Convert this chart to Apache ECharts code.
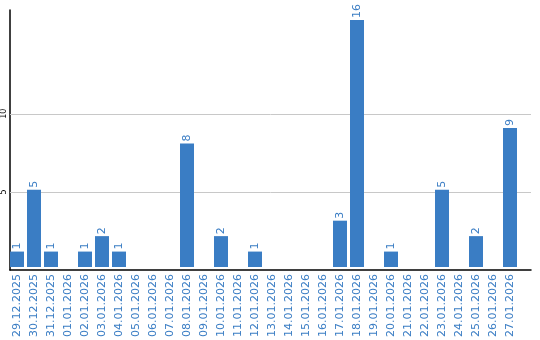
<!DOCTYPE html>
<html><head><meta charset="utf-8">
<script src="https://cdn.jsdelivr.net/npm/echarts@6/dist/echarts.min.js"></script>
<style>html,body{margin:0;padding:0;background:#fff}#c{width:540px;height:340px}</style>
</head><body><div id="c"></div>
<script>
const categories = ["29.12.2025","30.12.2025","31.12.2025","01.01.2026","02.01.2026","03.01.2026","04.01.2026","05.01.2026","06.01.2026","07.01.2026","08.01.2026","09.01.2026","10.01.2026","11.01.2026","12.01.2026","13.01.2026","14.01.2026","15.01.2026","16.01.2026","17.01.2026","18.01.2026","19.01.2026","20.01.2026","21.01.2026","22.01.2026","23.01.2026","24.01.2026","25.01.2026","26.01.2026","27.01.2026"];
const values = [1,5,1,0,1,2,1,0,0,0,8,0,2,0,1,0,0,0,0,3,16,0,1,0,0,5,0,2,0,9];
const yTicks = [5,10];
const yMax = 16.64;
const blue = '#3a7dc4';
const font = 'DejaVu Sans';
const chart = echarts.init(document.getElementById('c'));
chart.setOption({
  animation:false,
  grid:[
    {left:10,right:9,top:10,bottom:70},
    {left:8.5,width:510,top:10,bottom:70}
  ],
  xAxis:[
    {gridIndex:0,type:'value',min:0,max:1,axisLine:{show:true,onZero:false,lineStyle:{color:'#000',width:1.5}},axisTick:{show:false},axisLabel:{show:false},splitLine:{show:false}},
    {gridIndex:1,type:'category',data:categories,axisLine:{show:false},axisTick:{show:false},
     axisLabel:{interval:0,rotate:90,color:blue,fontFamily:font,fontSize:11,margin:7}}
  ],
  yAxis:[
    {gridIndex:0,type:'value',min:0,max:yMax,interval:5,axisLine:{show:true,lineStyle:{color:'#000',width:1.5}},axisTick:{show:false},splitLine:{show:false},
     axisLabel:{rotate:90,color:'#000',fontFamily:font,fontSize:8,margin:2,formatter:v=>yTicks.includes(v)?String(v):''}},
    {gridIndex:1,type:'value',min:0,max:yMax,show:false}
  ],
  series:[
    {type:'line',xAxisIndex:0,yAxisIndex:0,data:[],silent:true,z:0,zlevel:0,
     markLine:{symbol:'none',silent:true,label:{show:false},lineStyle:{color:'#c8c8c8',type:'solid',width:1},
       data:yTicks.map(v=>({yAxis:v}))}},
    {type:'bar',xAxisIndex:1,yAxisIndex:1,data:values.map(v=>v===0?null:v),barWidth:14,zlevel:1,
     itemStyle:{color:blue},
     label:{show:true,position:'top',rotate:90,align:'left',verticalAlign:'middle',distance:2,color:blue,fontFamily:font,fontSize:11}}
  ]
});
</script></body></html>
